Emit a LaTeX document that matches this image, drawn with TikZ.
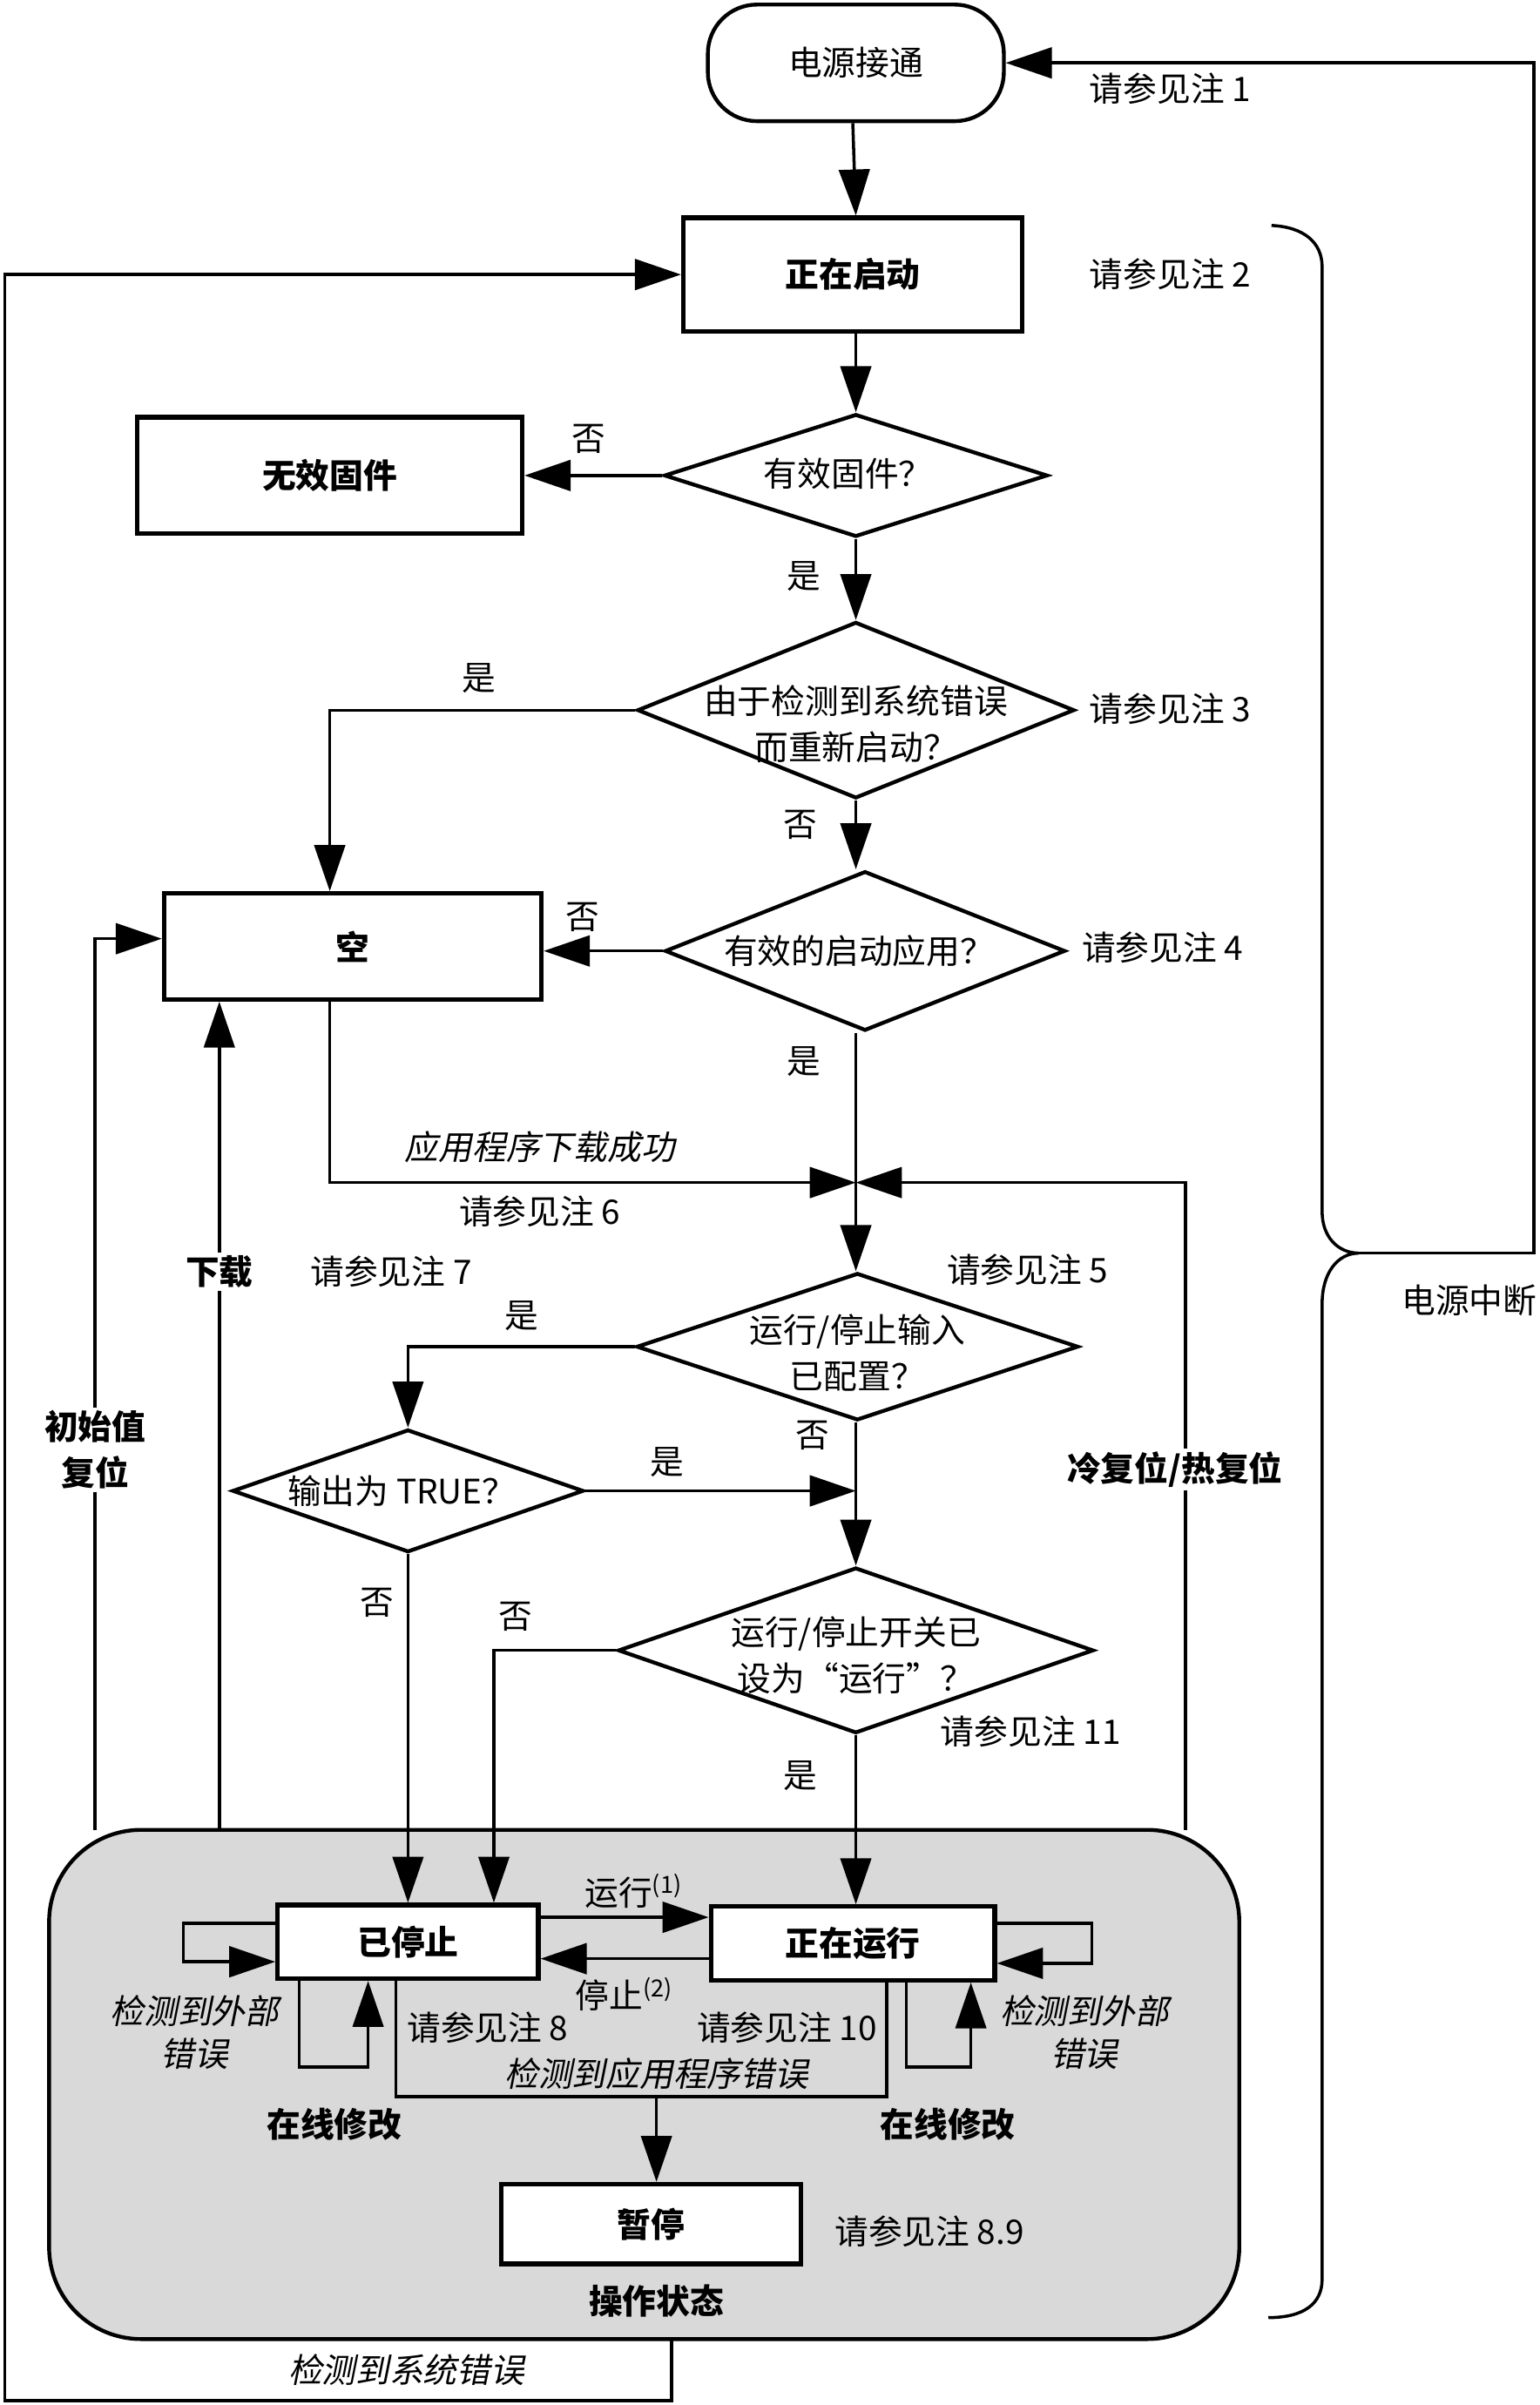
\documentclass[tikz,border=0pt]{standalone}
\usepackage{fontspec}
\setmainfont{Noto Sans CJK SC}
\newfontfamily\itf{Noto Sans CJK SC}[FakeSlant=0.2]
\usetikzlibrary{arrows.meta,shapes.geometric}
\definecolor{opgray}{HTML}{D9D9D9}
\newcommand\basefont{\fontsize{22}{30}\selectfont}
\tikzset{
  arr/.style={-{Triangle[length=30pt,width=20pt]}, line width=2pt},
  ln/.style={line width=2pt},
  boxn/.style={draw, line width=3pt, fill=white, font=\basefont\bfseries, inner sep=0pt},
  dia/.style={draw, shape=diamond, line width=2.5pt, fill=white, inner sep=0pt},
  term/.style={draw, line width=2.5pt, rounded corners=32pt, inner sep=0pt},
  lbl/.style={inner sep=1pt, align=center},
  wlbl/.style={inner sep=2pt, align=center, fill=white},
}
\begin{document}
\begin{tikzpicture}[x=1pt,y=-1pt, font=\basefont]
\useasboundingbox (0,0) rectangle (1004,1568);

% operating state background
\node[draw, line width=2.5pt, fill=opgray, rounded corners=60pt, minimum width=776pt, minimum height=332pt] (ops) at (420,1359) {};
\node[lbl, font=\basefont\bfseries] (opslbl) at (428,1500) {操作状态};

% nodes
\node[term, minimum width=193pt, minimum height=76pt] (pon) at (558,41) {电源接通};
\node[boxn, minimum width=221pt, minimum height=74pt] (start) at (556,179) {正在启动};
\node[boxn, minimum width=251pt, minimum height=76pt] (invalid) at (215,310) {无效固件};
\node[boxn, minimum width=246pt, minimum height=69pt] (empty) at (230,617) {空};
\node[boxn, minimum width=170pt, minimum height=48pt] (stopped) at (266,1266) {已停止};
\node[boxn, minimum width=185pt, minimum height=48pt] (running) at (556,1267) {正在运行};
\node[boxn, minimum width=195pt, minimum height=52pt] (pause) at (424.5,1450) {暂停};

\node[dia, minimum width=250pt, minimum height=80pt] (d1) at (558,310) {};
\node[lbl] (t1) at (553,309) {有效固件？};
\node[dia, minimum width=285pt, minimum height=115pt] (d2) at (558,463) {};
\node[lbl] (t2) at (558,472) {由于检测到系统错误\\而重新启动？};
\node[dia, minimum width=261pt, minimum height=104pt] (d3) at (564,620) {};
\node[lbl] (t3) at (560,620) {有效的启动应用？};
\node[dia, minimum width=288pt, minimum height=96pt] (d4) at (559,878) {};
\node[lbl] (t4) at (559,882) {运行/停止输入\\已配置？};
\node[dia, minimum width=229pt, minimum height=80pt] (d5) at (266,972) {};
\node[lbl] (t5) at (262,972) {输出为 TRUE？};
\node[dia, minimum width=310pt, minimum height=108pt] (d6) at (558,1076) {};
\node[lbl] (t6) at (558,1079) {运行/停止开关已\\设为“运行”？};

\coordinate (J) at (558,771);
\coordinate (cw) at (773,1193);
\coordinate (dl) at (143,1193);
\coordinate (iv) at (62,1193);
\coordinate (se) at (438,1525);
\coordinate (pb) at (886,817);
\coordinate (AE) at (428,1367);

% connectors
\draw[arr] (pon.south -| start.north) -- (start.north -| pon.south);
\draw[arr] (start.south -| d1.north) -- (d1.north);
\draw[arr] (d1.west) -- (invalid.east);
\draw[arr] (d1.south) -- (d2.north);
\draw[arr] (d2.west) -| ([xshift=-15pt]empty.north);
\draw[arr] (d2.south) -- (d2.south |- d3.north);
\draw[arr] (d3.west) -- (d3.west -| empty.east);
\draw[ln] (d3.south -| J) -- (J);
\draw[arr] (J) -- (J |- d4.north);
\draw[arr] ([xshift=-15pt]empty.south) |- (J);
\draw[arr] (cw) |- (J);
\draw[arr] (d4.west) -| (d5.north);
\draw[arr] (d5.east) -- (d5.east -| J);
\draw[arr] (d4.south -| J) -- (J |- d6.north);
\draw[arr] (d6.west) -| ([xshift=56pt]stopped.north);
\draw[arr] (d5.south) -- (stopped.north);
\draw[arr] (d6.south) -- (d6.south |- running.north);
\draw[arr] ([yshift=16pt]stopped.east) -- ([yshift=16pt]stopped.east -| running.west);
\draw[arr] ([yshift=-10pt]running.west) -- ([yshift=-10pt]running.west -| stopped.east);
\draw[arr] ([yshift=12pt]stopped.west) -- ++(-60,0) -- ++(0,25) -- ([yshift=-13pt]stopped.west);
\draw[arr] ([xshift=-71pt]stopped.south) -- ++(0,56) -| ([xshift=-26pt]stopped.south);
\draw[arr] ([yshift=13pt]running.east) -- ++(62,0) -- ++(0,26) -- ([yshift=-13pt]running.east);
\draw[arr] ([xshift=35pt]running.south) -- ++(0,55) -| ([xshift=77pt]running.south);
\draw[ln] ([xshift=-8pt]stopped.south) |- (AE) -| ([xshift=22pt]running.south);
\draw[arr] (AE) -- (AE |- pause.north);
\draw[arr] (dl) -- (dl |- empty.south);
\draw[arr] (iv) |- ([yshift=5pt]empty.west);
\draw[arr] (se) |- (3,1565) |- (start.west);
\draw[arr] (pb) -- (1000,817) |- (pon.east);
\draw[ln] (829,147) .. controls (850,148) and (862,158) .. (862,174) -- (862,790)
  .. controls (862,806) and (872,817) .. (886,817)
  .. controls (872,817) and (862,830) .. (862,850) -- (862,1486)
  .. controls (862,1502) and (850,1511) .. (827,1511);

% labels
\node[lbl] (n1) at (763,58) {请参见注 1};
\node[lbl] (n2) at (763,179) {请参见注 2};
\node[lbl] (n3) at (763,462) {请参见注 3};
\node[lbl] (n4) at (758,618) {请参见注 4};
\node[lbl] (n5) at (670,828) {请参见注 5};
\node[lbl] (n6) at (352,790) {请参见注 6};
\node[lbl] (n7) at (255,829) {请参见注 7};
\node[lbl] (n8) at (318,1322) {请参见注 8};
\node[lbl] (n10) at (513,1322) {请参见注 10};
\node[lbl] (n11) at (672,1129) {请参见注 11};
\node[lbl] (n89) at (606,1455) {请参见注 8.9};
\node[lbl] (poff) at (958,848) {电源中断};
\node[lbl] (no1) at (384,286) {否};
\node[lbl] (yes1) at (524,376) {是};
\node[lbl] (yes2) at (312,442) {是};
\node[lbl] (no2) at (522,538) {否};
\node[lbl] (no3) at (380,598) {否};
\node[lbl] (yes3) at (524,692) {是};
\node[lbl] (yes4) at (340,858) {是};
\node[lbl] (yes5) at (435,953) {是};
\node[lbl] (no4) at (530,936) {否};
\node[lbl] (no5) at (246,1045) {否};
\node[lbl] (no6) at (336,1054) {否};
\node[lbl] (yes6) at (522,1158) {是};
\node[lbl, font=\basefont\itf] (dlok) at (352,748) {应用程序下载成功};
\node[wlbl, font=\basefont\bfseries] (cwl) at (766,958) {冷复位/热复位};
\node[wlbl, font=\basefont\bfseries] (dll) at (143,829) {下载};
\node[wlbl, font=\basefont\bfseries] (ivl) at (62,945) {初始值\\复位};
\node[lbl] (runl) at (413,1233) {运行\textsuperscript{(1)}};
\node[lbl] (stopl) at (407,1300) {停止\textsuperscript{(2)}};
\node[lbl, font=\fontsize{22}{28}\selectfont\itf] (ext1) at (127,1325) {检测到外部\\错误};
\node[lbl, font=\fontsize{22}{28}\selectfont\itf] (ext2) at (707,1325) {检测到外部\\错误};
\node[lbl, font=\basefont\bfseries] (onl1) at (218,1385) {在线修改};
\node[lbl, font=\basefont\bfseries] (onl2) at (618,1385) {在线修改};
\node[lbl, font=\basefont\itf] (apperr) at (428,1352) {检测到应用程序错误};
\node[lbl, font=\basefont\itf] (syserr) at (265,1545) {检测到系统错误};
\end{tikzpicture}
\end{document}
